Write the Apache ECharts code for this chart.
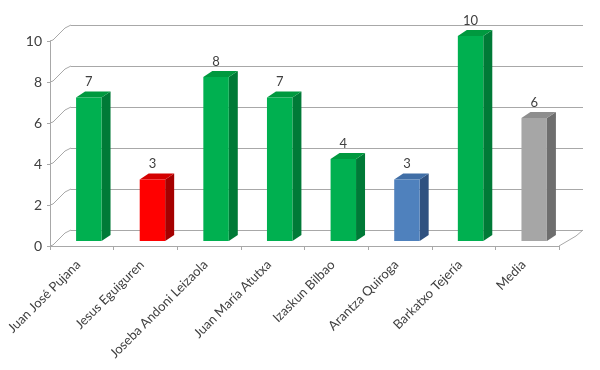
<!DOCTYPE html>
<html>
<head>
<meta charset="utf-8">
<script src="https://cdn.jsdelivr.net/npm/echarts@6/dist/echarts.min.js"></script>
<style>html,body{margin:0;padding:0;background:#fff}#c{width:600px;height:370px}</style>
</head>
<body>
<div id="c"></div>
<script>
const categories = ['Juan José Pujana','Jesus Eguiguren','Joseba Andoni Leizaola','Juan María Atutxa','Izaskun Bilbao','Arantza Quiroga','Barkatxo Tejería','Media'];
const values = [7,3,8,7,4,3,10,6];
const yTicks = [0,2,4,6,8,10];
const barColorKeys = ['green','red','green','green','green','blue','green','gray'];

const palette = {
  green: {front:'#00B050', side:'#007A37', top:'#00993F'},
  red:   {front:'#FF0000', side:'#A50000', top:'#D40000'},
  blue:  {front:'#4F81BD', side:'#2F5180', top:'#406EA6'},
  gray:  {front:'#A6A6A6', side:'#6E6E6E', top:'#8E8E8E'}
};
const FONT = 'Lato';
const TXT = '#404040';
const GRID = '#A8A8A8';

const chart = echarts.init(document.getElementById('c'), null, {renderer:'canvas'});

function barItem(params, api){
  const i = api.value(0), v = api.value(1);
  const top = api.coord([i, v]);
  const base = api.coord([i, 0]);
  const w = api.size([1,0])[0]*0.4;
  const ox = 7, oy = -5, dx = 9, dy = -6;
  const x0 = top[0]-w/2+ox, x1 = x0+w;
  const yt = top[1]+oy, yb = base[1]+oy;
  const col = palette[barColorKeys[i]];
  return {type:'group', children:[
    {type:'polygon', shape:{points:[[x1,yt],[x1+dx,yt+dy],[x1+dx,yb+dy],[x1,yb]]}, style:{fill:col.side}},
    {type:'polygon', shape:{points:[[x0,yt],[x1,yt],[x1+dx,yt+dy],[x0+dx,yt+dy]]}, style:{fill:col.top}},
    {type:'rect', shape:{x:x0,y:yt,width:w,height:yb-yt}, style:{fill:col.front}},
    {type:'text', style:{text:String(v), x:x0+w/2, y:yt+dy-3, align:'center', verticalAlign:'bottom', font:'13px '+FONT, fill:TXT}}
  ]};
}

function connectorItem(params, api){
  const v = api.value(0);
  const p = api.coord([0, v]);
  const xl = p[0]-api.size([1,0])[0]/2;
  const y = p[1];
  return {type:'polyline', shape:{points:[[xl,y],[xl+3,y-1],[xl+15,y-13],[xl+21,y-16]]}, style:{stroke:GRID, lineWidth:1, fill:null}};
}

function floorItem(params, api){
  const n = categories.length-1;
  const p = api.coord([n, 0]);
  const xr = p[0]+api.size([1,0])[0]/2;
  const y = p[1];
  return {type:'polyline', shape:{points:[[xr,y],[xr+17,y-10],[xr+24,y-16]]}, style:{stroke:GRID, lineWidth:1, fill:null}};
}

chart.setOption({
  animation:false,
  grid:[
    {left:50, right:41, top:41, bottom:124},
    {left:71, right:17, top:25, bottom:140}
  ],
  xAxis:[
    {type:'category', gridIndex:0, data:categories, boundaryGap:true,
     axisLine:{lineStyle:{color:GRID}}, axisTick:{show:true, length:4, lineStyle:{color:GRID}, alignWithLabel:false},
     axisLabel:{rotate:45, interval:0, fontFamily:FONT, fontSize:13, color:TXT, margin:13, padding:[0,5,0,0]}},
    {type:'value', gridIndex:1, show:false, min:0, max:1}
  ],
  yAxis:[
    {type:'value', gridIndex:0, min:0, max:10, interval:2,
     axisLine:{show:true, lineStyle:{color:GRID}}, axisTick:{show:true, length:3, lineStyle:{color:GRID}},
     splitLine:{show:false},
     axisLabel:{fontFamily:FONT, fontSize:14, color:TXT, margin:8}},
    {type:'value', gridIndex:1, min:0, max:10, interval:2,
     axisLine:{show:false}, axisTick:{show:false}, axisLabel:{show:false},
     splitLine:{show:true, lineStyle:{color:GRID, width:1}}}
  ],
  series:[
    {type:'custom', xAxisIndex:0, yAxisIndex:0, z:1, renderItem:connectorItem,
     data:yTicks.map(v=>[v]), encode:{y:0}},
    {type:'custom', xAxisIndex:0, yAxisIndex:0, z:1, renderItem:floorItem, data:[[0]]},
    {type:'custom', xAxisIndex:0, yAxisIndex:0, z:5, renderItem:barItem,
     data:values.map((v,i)=>[i,v]), encode:{x:0,y:1}}
  ]
});
</script>
</body>
</html>
